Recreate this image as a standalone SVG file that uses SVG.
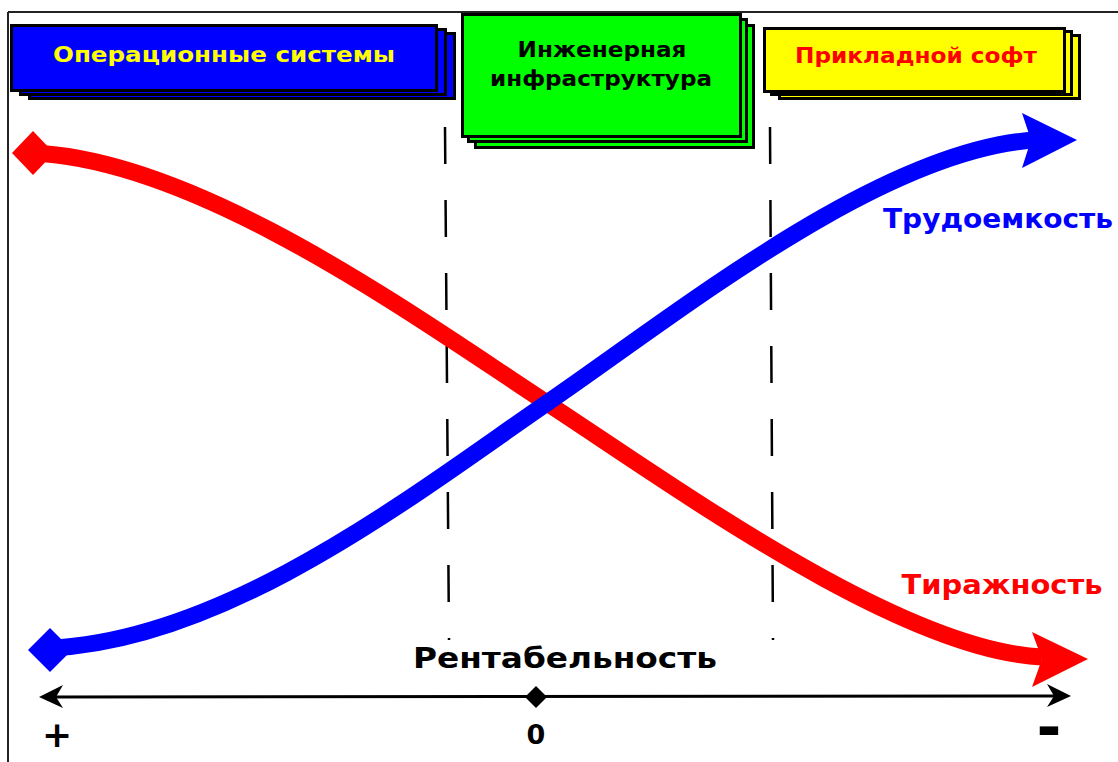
<svg xmlns="http://www.w3.org/2000/svg" width="1118" height="762" viewBox="0 0 1118 762">
<style>
  .card { stroke:#000; stroke-width:3; }
  .t { font-family:"DejaVu Sans","Liberation Sans",sans-serif; font-weight:bold; }
  .dash { fill:none; stroke:#000; stroke-width:2.5; stroke-dasharray:37 36; }
  .curve { fill:none; stroke-width:17; stroke-linecap:butt; }
</style>
<rect x="0" y="0" width="1118" height="762" fill="#fff"/>
<g id="frame" stroke="#222" stroke-width="2" fill="none">
  <line x1="8" y1="12" x2="1118" y2="12"/>
  <line x1="8" y1="12" x2="8" y2="762"/>
</g>
<g id="connectors">
  <line class="dash" x1="445" y1="127" x2="449" y2="640"/>
  <line class="dash" x1="770" y1="127" x2="773" y2="640"/>
  <path class="curve" stroke="#ff0000" d="M 33,153 C 200,160 417,318 547,403 C 677,488 900,650 1042,657"/>
  <polygon fill="#ff0000" points="12,153 33,131 54,153 33,175"/>
  <polygon fill="#ff0000" points="1088,659 1032,632 1042,659 1032,687"/>
  <path class="curve" stroke="#0000ff" d="M 50,648 C 230,640 420,490 547,403 C 677,314 880,150 1035,140"/>
  <polygon fill="#0000ff" points="28,650 50,628 72,650 50,672"/>
  <polygon fill="#0000ff" points="1077,140 1022,113 1031,140 1022,168"/>
  <line x1="55" y1="697" x2="1055" y2="696" stroke="#000" stroke-width="3"/>
  <polygon fill="#000" points="39,697 63,685 56,697 63,708"/>
  <polygon fill="#000" points="1071,696 1047,684 1054,696 1047,707"/>
  <polygon fill="#000" points="525,697 536,686 547,697 536,708"/>
</g>
<g id="node-os">
  <rect class="card" fill="#0000ff" x="29.5" y="33.5" width="425" height="65"/>
  <rect class="card" fill="#0000ff" x="20.5" y="29.5" width="425" height="65"/>
  <rect class="card" fill="#0000ff" x="11.5" y="25.5" width="425" height="65"/>
  <text class="t" x="224" y="62" font-size="22" fill="#ffff00" text-anchor="middle" textLength="342" lengthAdjust="spacingAndGlyphs">Операционные системы</text>
</g>
<g id="node-infra">
  <rect class="card" fill="#00ff00" x="475.5" y="25.5" width="278" height="122"/>
  <rect class="card" fill="#00ff00" x="468.5" y="19.5" width="278" height="122"/>
  <rect class="card" fill="#00ff00" x="462.5" y="14.5" width="278" height="122"/>
  <text class="t" x="602" y="57" font-size="21" fill="#000" text-anchor="middle" textLength="169" lengthAdjust="spacingAndGlyphs">Инженерная</text>
  <text class="t" x="601" y="86" font-size="21" fill="#000" text-anchor="middle" textLength="222" lengthAdjust="spacingAndGlyphs">инфраструктура</text>
</g>
<g id="node-app">
  <rect class="card" fill="#ffff00" x="779.5" y="35.5" width="300" height="63"/>
  <rect class="card" fill="#ffff00" x="771.5" y="31.5" width="300" height="63"/>
  <rect class="card" fill="#ffff00" x="764.5" y="28.5" width="300" height="63"/>
  <text class="t" x="916" y="63" font-size="21" fill="#ff0000" text-anchor="middle" textLength="242" lengthAdjust="spacingAndGlyphs">Прикладной софт</text>
</g>
<g id="labels">
  <text class="t" x="998" y="228" font-size="27" fill="#0000ff" text-anchor="middle" textLength="230" lengthAdjust="spacingAndGlyphs">Трудоемкость</text>
  <text class="t" x="1002" y="594" font-size="27" fill="#ff0000" text-anchor="middle" textLength="201" lengthAdjust="spacingAndGlyphs">Тиражность</text>
  <text class="t" x="565" y="668" font-size="28" fill="#000" text-anchor="middle" textLength="304" lengthAdjust="spacingAndGlyphs">Рентабельность</text>
  <text class="t" x="57" y="747" font-size="36" fill="#000" text-anchor="middle">+</text>
  <text class="t" x="536" y="744" font-size="27" fill="#000" text-anchor="middle">0</text>
  <text class="t" x="1049" y="748" font-size="60" fill="#000" text-anchor="middle">-</text>
</g>
</svg>
